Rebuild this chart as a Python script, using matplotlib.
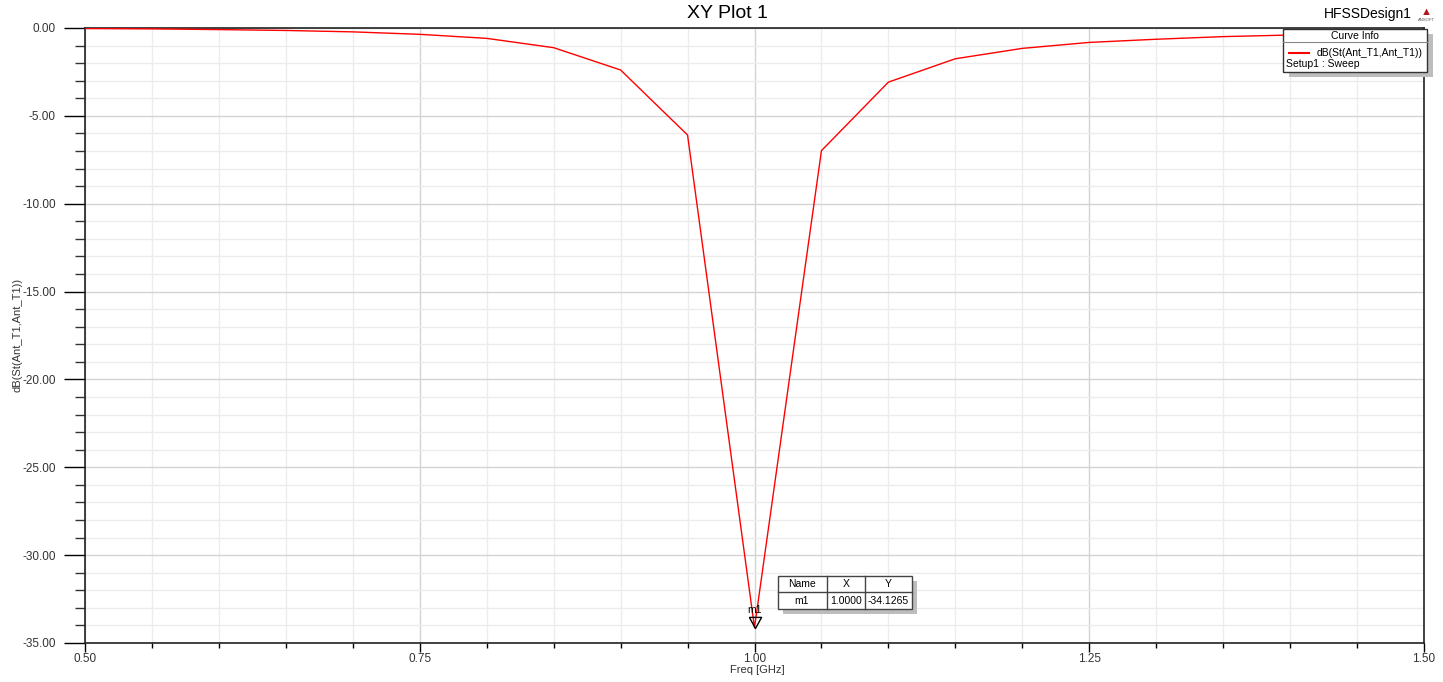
import numpy as np
import matplotlib
matplotlib.use("Agg")
import matplotlib.pyplot as plt
from matplotlib.patches import Rectangle
from matplotlib.lines import Line2D
from matplotlib.ticker import MultipleLocator, FuncFormatter

plt.rcParams['font.family'] = ['Liberation Sans', 'DejaVu Sans']

# Data
freq = [0.50, 0.55, 0.60, 0.65, 0.70, 0.75, 0.80, 0.85, 0.90, 0.95, 1.00,
        1.05, 1.10, 1.15, 1.20, 1.25, 1.30, 1.35, 1.40, 1.45, 1.50]
s11_db = [-0.03, -0.05, -0.09, -0.14, -0.22, -0.36, -0.59, -1.12, -2.39, -6.09, -34.1265,
          -6.98, -3.08, -1.75, -1.16, -0.82, -0.64, -0.49, -0.40, -0.33, -0.28]
marker_name = 'm1'
marker_x = 1.0000
marker_y = -34.1265
curve_name = 'dB(St(Ant_T1,Ant_T1))'
setup_name = 'Setup1 : Sweep'

W, H = 1443, 682


def px(x, y):
    # pixel position -> figure fraction
    return x / W, 1 - y / H


fig = plt.figure(figsize=(W / 100, H / 100), dpi=100)
ax = fig.add_axes([85 / W, 1 - 643 / H, (1424 - 85) / W, (643 - 28) / H])

ax.plot(freq, s11_db, color='red', lw=1.0, zorder=3)

ax.set_xlim(0.5, 1.5)
ax.set_ylim(-35, 0)
ax.xaxis.set_major_locator(MultipleLocator(0.25))
ax.xaxis.set_minor_locator(MultipleLocator(0.05))
ax.yaxis.set_major_locator(MultipleLocator(5))
ax.yaxis.set_minor_locator(MultipleLocator(1))
ax.xaxis.set_major_formatter(FuncFormatter(lambda v, p: f"{v:.2f}"))
ax.yaxis.set_major_formatter(FuncFormatter(lambda v, p: f"{v + 0.0:.2f}"))

ax.grid(which='major', color='#d4d4d4', lw=1.0)
ax.grid(which='minor', color='#ececec', lw=1.0)
ax.set_axisbelow(True)

ax.tick_params(axis='y', which='major', length=15, width=1, pad=6, labelsize=8.5)
ax.tick_params(axis='y', which='minor', length=7.5, width=1, color='#333333')
ax.tick_params(axis='x', which='major', length=6.5, width=1, pad=1, labelsize=8.5)
ax.tick_params(axis='x', which='minor', length=3.6, width=1)
for lab in ax.get_xticklabels() + ax.get_yticklabels():
    lab.set_color('#333333')
for sp in ax.spines.values():
    sp.set_color('#222222')
    sp.set_linewidth(1.2)

# axis labels / titles
fig.text(*px(757, 670), 'Freq [GHz]', ha='center', va='center', fontsize=8, color='#333333')
fig.text(*px(18, 335), curve_name, rotation=90, ha='center', va='center', fontsize=8, color='#333333')
fig.text(*px(727, 13), 'XY Plot 1', ha='center', va='center', fontsize=14)
fig.text(*px(1368, 14), 'HFSSDesign1', ha='center', va='center', fontsize=10)
fig.text(*px(1426, 12), '\u25b2', ha='center', va='center', fontsize=8, color='#b01818')
fig.text(*px(1426, 20), 'ANSOFT', ha='center', va='center', fontsize=3, color='#555555')

# marker m1 (down triangle with its tip on the point)
tri = [(-0.55, 1.0), (0.55, 1.0), (0.0, 0.0), (-0.55, 1.0)]
ax.plot([marker_x], [marker_y], marker=tri, ms=16, mfc='none', mec='black', mew=1,
        zorder=5, linestyle='none')
ax.annotate(marker_name, (marker_x, marker_y), xytext=(0, 12.5), textcoords='offset points',
            ha='center', va='center', fontsize=7.5)

# marker table
tx0, ty0, tx1, ty1 = 778, 576, 912, 609
fig.patches.append(Rectangle(px(tx0 + 5, ty1 + 5), (tx1 - tx0) / W, (ty1 - ty0) / H,
                             transform=fig.transFigure, facecolor='#bdbdbd', edgecolor='none', zorder=4))
fig.patches.append(Rectangle(px(tx0, ty1), (tx1 - tx0) / W, (ty1 - ty0) / H,
                             transform=fig.transFigure, facecolor='white', edgecolor='#444444', lw=1, zorder=5))
for x in (827, 865):
    fig.lines.append(Line2D([x / W, x / W], [1 - ty0 / H, 1 - ty1 / H], transform=fig.transFigure,
                            color='#444444', lw=1, zorder=6))
fig.lines.append(Line2D([tx0 / W, tx1 / W], [1 - 592 / H, 1 - 592 / H], transform=fig.transFigure,
                        color='#444444', lw=1, zorder=6))
cols = [(802, 'Name', marker_name), (846, 'X', f"{marker_x:.4f}"), (888, 'Y', f"{marker_y:.4f}")]
for cx, head, val in cols:
    fig.text(*px(cx, 584), head, ha='center', va='center', fontsize=7.5, zorder=7)
    fig.text(*px(cx, 601), val, ha='center', va='center', fontsize=7.5, zorder=7)

# curve info box
lx0, ly0, lx1, ly1 = 1283, 29, 1427, 72
fig.patches.append(Rectangle(px(lx0 + 6, ly1 + 5), (lx1 - lx0) / W, (ly1 - ly0) / H,
                             transform=fig.transFigure, facecolor='#bdbdbd', edgecolor='none', zorder=4))
fig.patches.append(Rectangle(px(lx0, ly1), (lx1 - lx0) / W, (ly1 - ly0) / H,
                             transform=fig.transFigure, facecolor='white', edgecolor='#333333', lw=1, zorder=5))
fig.lines.append(Line2D([lx0 / W, lx1 / W], [1 - 42 / H, 1 - 42 / H], transform=fig.transFigure,
                        color='#888888', lw=0.8, zorder=6))
fig.text(*px(1355, 36), 'Curve Info', ha='center', va='center', fontsize=7.5, zorder=7)
fig.lines.append(Line2D([1289 / W, 1309 / W], [1 - 53 / H, 1 - 53 / H], transform=fig.transFigure,
                        color='red', lw=1.5, zorder=7))
fig.text(*px(1423, 53), curve_name, ha='right', va='center', fontsize=7.5, zorder=7)
fig.text(*px(1286, 64), setup_name, ha='left', va='center', fontsize=7.5, zorder=7)

fig.savefig('out.png', dpi=100)
